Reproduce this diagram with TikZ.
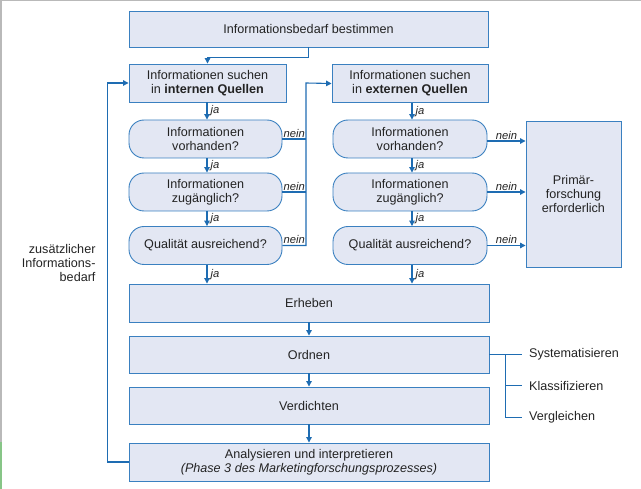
\documentclass[tikz,border=0pt]{standalone}
\usepackage{fontspec}
\setmainfont{Liberation Sans}
\usetikzlibrary{arrows.meta}
\definecolor{boxfill}{RGB}{227,231,243}
\definecolor{boxline}{RGB}{58,128,192}
\definecolor{arrblue}{RGB}{30,108,178}
\definecolor{txt}{RGB}{35,35,35}
\begin{document}
\begin{tikzpicture}[x=1pt,y=-1pt,
  every node/.style={text=txt,font=\fontsize{12.6}{14.3}\selectfont},
  sqbox/.style={draw=boxline,fill=boxfill,line width=0.9pt,inner sep=0pt,align=center},
  rbox/.style={sqbox,rounded corners=15pt},
  arr/.style={draw=arrblue,line width=1.1pt,-{Triangle[length=5.5pt,width=5.5pt]}},
  ln/.style={draw=arrblue,line width=1.1pt},
  lab/.style={font=\fontsize{11.2}{13}\selectfont\itshape,inner sep=1pt}]
\useasboundingbox (0,0) rectangle (641,489);
% frame of the screenshot
\fill[gray!55] (0,0) rectangle (641,1.5);
\fill[gray!55] (0,0) rectangle (1.5,442);
\fill[green!35!gray!70] (0,442) rectangle (1.5,489);

\node[sqbox,minimum width=359pt,minimum height=36pt] (top) at (308.5,29) {Informationsbedarf bestimmen};
\node[sqbox,minimum width=157pt,minimum height=38pt] (intq) at (207.5,83) {Informationen suchen\\in \textbf{internen Quellen}};
\node[sqbox,minimum width=156pt,minimum height=38pt] (extq) at (410,83.5) {Informationen suchen\\in \textbf{externen Quellen}};

\node[rbox,minimum width=153pt,minimum height=38pt] (l1) at (205.5,139) {Informationen\\vorhanden?};
\node[rbox,minimum width=153pt,minimum height=38pt] (l2) at (205.5,192) {Informationen\\zugänglich?};
\node[rbox,minimum width=153pt,minimum height=38pt] (l3) at (205.5,245.5) {Qualität ausreichend?};
\node[rbox,minimum width=154pt,minimum height=38pt] (r1) at (410,139) {Informationen\\vorhanden?};
\node[rbox,minimum width=154pt,minimum height=38pt] (r2) at (410,192) {Informationen\\zugänglich?};
\node[rbox,minimum width=154pt,minimum height=38pt] (r3) at (410,245.5) {Qualität ausreichend?};

\node[sqbox,minimum width=95pt,minimum height=146pt] (prim) at (573.5,194) {Primär-\\forschung\\erforderlich};

\node[sqbox,minimum width=360pt,minimum height=38pt] (erh) at (309,303) {Erheben};
\node[sqbox,minimum width=360pt,minimum height=37pt] (ord) at (309,354.5) {Ordnen};
\node[sqbox,minimum width=360pt,minimum height=37pt] (ver) at (309,405.5) {Verdichten};
\node[sqbox,minimum width=360pt,minimum height=38pt] (ana) at (309,462) {Analysieren und interpretieren\\\textit{(Phase 3 des Marketingforschungsprozesses)}};

% top to internal
\draw[arr] (top.south) -- ++(0,10) -| (intq.north);

% ja arrows, left column
\coordinate (lx) at (207,0);
\draw[arr] (intq.south -| lx) -- (l1.north -| lx) node[lab,midway,right=2pt] {ja};
\draw[arr] (l1.south -| lx) -- (l2.north -| lx) node[lab,midway,right=2pt] {ja};
\draw[arr] (l2.south -| lx) -- (l3.north -| lx) node[lab,midway,right=2pt] {ja};
\draw[arr] (l3.south -| lx) -- (erh.north -| lx) node[lab,midway,right=2pt] {ja};

% ja arrows, right column
\coordinate (rx) at (412,0);
\draw[arr] (extq.south -| rx) -- (r1.north -| rx) node[lab,midway,right=2pt] {ja};
\draw[arr] (r1.south -| rx) -- (r2.north -| rx) node[lab,midway,right=2pt] {ja};
\draw[arr] (r2.south -| rx) -- (r3.north -| rx) node[lab,midway,right=2pt] {ja};
\draw[arr] (r3.south -| rx) -- (erh.north -| rx) node[lab,midway,right=2pt] {ja};

% nein, left column to external sources
\coordinate (jn) at (306,83);
\draw[ln] (l1.east) -- (l1.east -| jn) node[lab,midway,above] {nein};
\draw[ln] (l2.east) -- (l2.east -| jn) node[lab,midway,above] {nein};
\draw[arr] (l3.east) -- (l3.east -| jn) node[lab,midway,above] {nein} -- (jn) -- (extq.west);

% nein, right column to primary research
\draw[arr] ([yshift=-2pt]r1.east) -- ([yshift=-2pt]r1.east -| prim.west) node[lab,midway,above] {nein};
\draw[arr] (r2.east) -- (r2.east -| prim.west) node[lab,midway,above] {nein};
\draw[arr] (r3.east) -- (r3.east -| prim.west) node[lab,midway,above] {nein};

% lower chain
\draw[arr] (erh.south) -- (ord.north);
\draw[arr] (ord.south) -- (ver.north);
\draw[arr] (ver.south) -- (ana.north);

% feedback loop
\draw[arr] (ana.west) -- ++(-21,0) |- (intq.west);
\node[align=right,anchor=east,font=\fontsize{12.6}{13.8}\selectfont] (zus) at (99,263) {zusätzlicher\\Informations-\\bedarf};

% bracket at Ordnen
\coordinate (bx) at (505,354.5);
\coordinate (s1) at (522,354.5);
\coordinate (s2) at (522,385.5);
\coordinate (s3) at (522,417);
\draw[ln,line width=0.9pt] (ord.east) -- (s1);
\draw[ln,line width=0.9pt] (bx) |- (s3);
\draw[ln,line width=0.9pt] (bx |- s2) -- (s2);
\node[anchor=west,inner sep=0pt] (sys) at (529,354.5) {Systematisieren};
\node[anchor=west,inner sep=0pt] (kla) at (529,385.5) {Klassifizieren};
\node[anchor=west,inner sep=0pt] (vgl) at (529,417) {Vergleichen};
\end{tikzpicture}
\end{document}
